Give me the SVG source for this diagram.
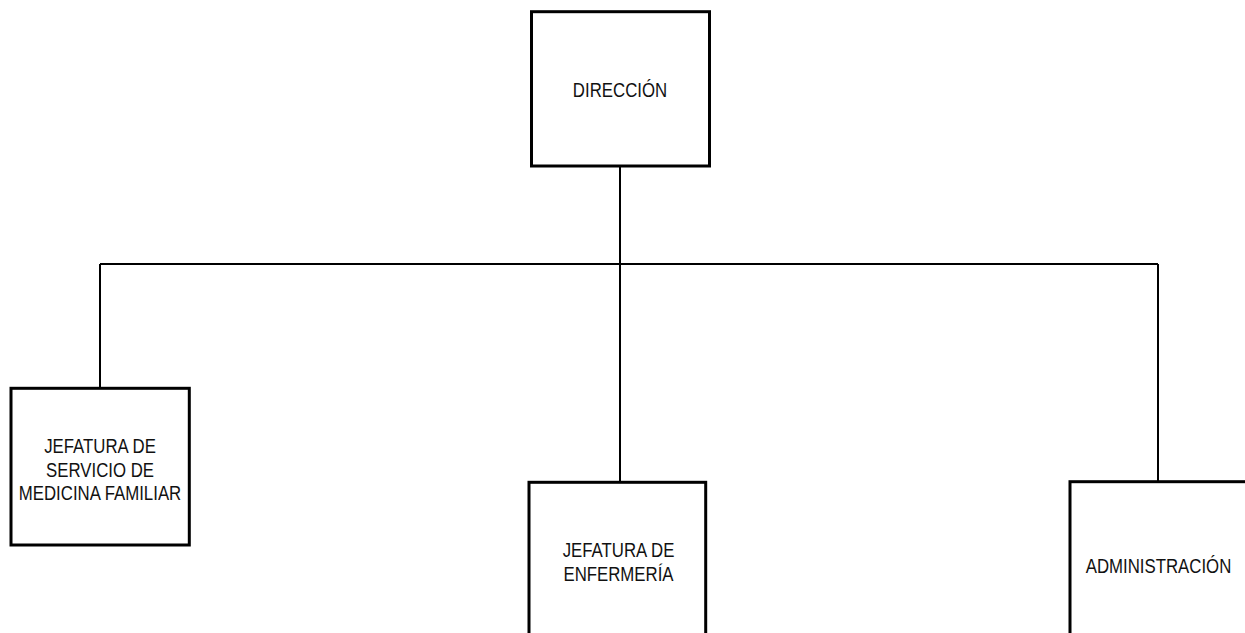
<svg xmlns="http://www.w3.org/2000/svg" width="1245" height="633" viewBox="0 0 1245 633">
<style>
.box{fill:#fff;stroke:#000;stroke-width:3}
.con{fill:none;stroke:#000;stroke-width:2}
.lbl{font-family:"Liberation Sans",Arial,sans-serif;font-size:20.5px;fill:#111;text-anchor:middle}
</style>
<rect width="1245" height="633" fill="#fff"/>
<g id="connectors">
<line class="con" x1="620" y1="166" x2="620" y2="482"/>
<line class="con" x1="100" y1="264" x2="1158" y2="264"/>
<line class="con" x1="100" y1="264" x2="100" y2="388"/>
<line class="con" x1="1158" y1="264" x2="1158" y2="482"/>
</g>
<g id="direccion">
<rect class="box" x="531.5" y="11.7" width="178" height="154.3"/>
<text class="lbl" transform="translate(620,97) scale(0.82,1)" x="0" y="0">DIRECCIÓN</text>
</g>
<g id="jefatura-medicina">
<rect class="box" x="11" y="388.3" width="178.3" height="156.7"/>
<text class="lbl" transform="translate(100,453) scale(0.82,1)" x="0" y="0"><tspan x="0" y="0">JEFATURA DE</tspan><tspan x="0" y="24">SERVICIO DE</tspan><tspan x="0" y="47">MEDICINA FAMILIAR</tspan></text>
</g>
<g id="jefatura-enfermeria">
<rect class="box" x="529" y="482.3" width="176.7" height="200"/>
<text class="lbl" transform="translate(618.5,557) scale(0.82,1)" x="0" y="0"><tspan x="0" y="0">JEFATURA DE</tspan><tspan x="0" y="24">ENFERMERÍA</tspan></text>
</g>
<g id="administracion">
<rect class="box" x="1070" y="481.7" width="200" height="200"/>
<text class="lbl" transform="translate(1158.5,573) scale(0.82,1)" x="0" y="0">ADMINISTRACIÓN</text>
</g>
</svg>
